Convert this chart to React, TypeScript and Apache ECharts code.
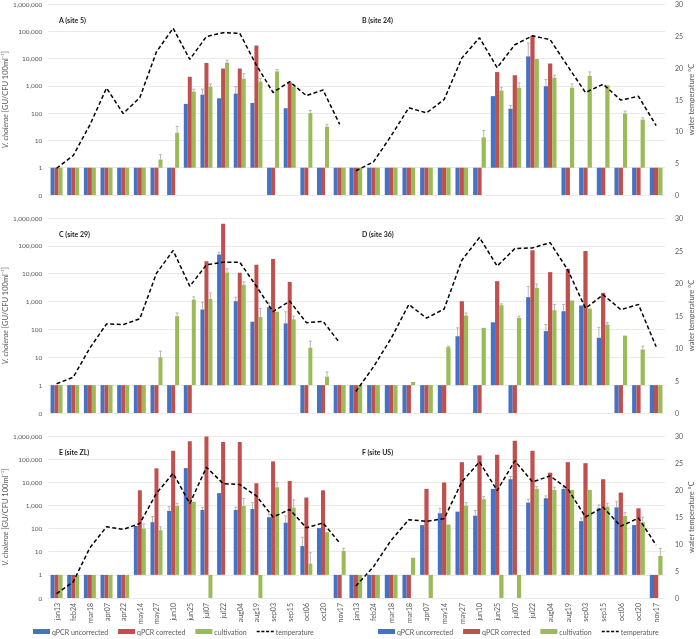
import React, { useEffect, useRef } from 'react';
import * as echarts from 'echarts';

const categories = ['jan13','feb24','mar18','apr07','apr22','may14','may27','jun10','jun25','jul07','jul22','aug04','aug19','sep03','sep15','oct06','oct20','nov17'];
const categoriesF = ['jan13','feb24','mar18','mar18','apr07','may14','may27','jun10','jun25','jul07','jul22','aug04','aug19','sep03','sep15','oct06','oct20','nov17'];

const panelTitles = ['A (site 5)', 'B (site 24)', 'C (site 29)', 'D (site 36)', 'E (site ZL)', 'F (site US)'];
const seriesNames = ['qPCR uncorrected', 'qPCR corrected', 'cultivation', 'temperature'];

// A (site 5)
const aUncorr = [0.1,0.1,0.1,0.1,0.1,0.1,0.1,0.1,218,478,350,520,237,0.1,152,0.1,0.1,0.1];
const aCorr = [0.1,0.1,0.1,0.1,0.1,0.1,0.1,0.1,2150,6900,4300,4300,30000,0.1,1340,0.1,0.1,0.1];
const aCult = [0.1,0.1,0.1,0.1,0.1,0.1,2,19,615,930,7100,1830,1450,3400,950,100,32,0.1];
const aTemp = [4.2,6.2,11,16.8,12.8,15.3,22.5,26.2,21.3,24.9,25.5,25.4,20.4,16.1,17.8,15.6,16.5,11.1];
// error bar tops: [category index, upper value]
const aUncorrErr = [[9,760],[11,930]];
const aCultErr = [[6,3],[7,33],[8,760],[9,1170],[10,8700],[11,2800],[12,1900],[13,4000],[15,125],[16,39]];

// B (site 24)
const bUncorr = [0.1,0.1,0.1,0.1,0.1,0.1,0.1,0.1,420,145,12000,970,0.1,0.1,0.1,0.1,0.1,0.1];
const bCorr = [0.1,0.1,0.1,0.1,0.1,0.1,0.1,0.1,3200,2450,69000,6600,0.1,0.1,0.1,0.1,0.1,0.1];
const bCult = [0.1,0.1,0.1,0.1,0.1,0.1,0.1,13,675,850,9700,2000,850,2300,1050,97,58,0.1];
const bTemp = [3.8,5.2,9.3,13.7,12.9,15.0,21.5,24.7,20.0,23.6,25.0,24.4,20.2,16.1,17.4,14.9,15.5,10.9];
const bUncorrErr = [[9,190],[10,37000],[11,1700]];
const bCultErr = [[7,23],[8,890],[9,1290],[11,2450],[12,1180],[13,3250],[15,118],[16,68]];

// C (site 29)
const cUncorr = [0.1,0.1,0.1,0.1,0.1,0.1,0.1,0.1,0.1,520,49000,1030,190,630,165,0.1,0.1,0.1];
const cCorr = [0.1,0.1,0.1,0.1,0.1,0.1,0.1,0.1,0.1,28000,620000,10800,21000,34000,5100,0.1,0.1,0.1];
const cCult = [0.1,0.1,0.1,0.1,0.1,0.1,10,300,1180,1250,11000,4000,280,430,230,22,2,0.1];
const cTemp = [4.5,5.5,10.0,13.7,13.6,14.5,21.5,25.0,19.5,22.8,23.2,23.2,19.5,15.6,17.2,13.9,14.1,10.8];
const cUncorrErr = [[9,950],[10,59000],[11,1440],[13,900],[14,430]];
const cCultErr = [[6,16.6],[7,390],[8,1480],[9,2050],[10,15000],[11,5100],[12,560],[14,300],[15,38],[16,3]];

// D (site 36)
const dUncorr = [0.1,0.1,0.1,0.1,0.1,0.1,57,0.1,180,0.1,1440,87,450,720,50,0.1,0.1,0.1];
const dCorr = [0.1,0.1,0.1,0.1,0.1,0.1,1030,0.1,5400,0.1,69000,11400,15000,65000,2050,0.1,0.1,0.1];
const dCult = [0.1,0.1,0.1,1.3,0.1,23,315,114,740,260,3100,490,1090,560,150,60,19,0.1];
const dTemp = [3.3,7.1,11.5,16.7,14.6,16.0,23.5,27.0,22.6,25.3,25.4,26.2,22.0,16.1,18.2,15.9,16.7,10.2];
const dUncorrErr = [[6,114],[10,3500],[11,150],[12,790],[14,120]];
const dCultErr = [[5,25],[6,390],[8,830],[9,300],[10,4300],[11,790],[14,175],[16,25]];

// E (site ZL)
const eUncorr = [0.1,0.1,0.1,0.1,0.1,130,190,580,41000,640,3400,640,700,310,180,17.5,105,0.1];
const eCorr = [0.1,0.1,0.1,0.1,0.1,4500,40000,230000,590000,960000,550000,550000,9100,80000,11400,2200,4500,0.1];
const eCult = [0.1,0.1,0.1,0.1,0.1,100,86,950,1450,0.1,1,950,0.1,6100,800,3.1,70,11];
const eTemp = [0.8,3.0,9.3,13.2,12.7,13.8,19.4,23.1,17.5,24.2,21.2,21.0,18.9,15.0,16.4,13.0,13.9,10.2];
const eUncorrErr = [[6,330],[7,890],[9,830],[11,830],[12,1320],[13,430],[14,350],[15,42]];
const eCultErr = [[5,158],[6,120],[7,1240],[11,2000],[13,9800],[14,1740],[15,9],[17,14]];

// F (site US)
const fUncorr = [0.1,0.1,0.1,0.1,142,460,540,360,5200,13600,1320,2050,5200,210,750,830,142,0.1];
const fCorr = [0.1,0.1,0.1,0.1,5200,9800,74000,145000,155000,620000,230000,26000,74000,67000,13600,3600,750,0.1];
const fCult = [0.1,0.1,0.1,5.5,0.1,150,980,1850,0.1,0.1,5200,4700,4700,4700,890,350,186,6.5];
const fTemp = [2.2,5.8,10.7,14.5,14.2,14.7,21.5,25.2,19.9,25.4,21.5,22.6,20.2,15.0,16.8,13.3,14.8,9.8];
const fUncorrErr = [[5,750],[7,600],[9,18000],[10,1850],[11,2600],[12,6200],[13,280],[14,1050],[15,1450]];
const fCultErr = [[6,1320],[7,2400],[10,6600],[11,6200],[14,1240],[15,490],[16,310],[17,14]];

const panelData = [
  [aUncorr, aCorr, aCult, aTemp],
  [bUncorr, bCorr, bCult, bTemp],
  [cUncorr, cCorr, cCult, cTemp],
  [dUncorr, dCorr, dCult, dTemp],
  [eUncorr, eCorr, eCult, eTemp],
  [fUncorr, fCorr, fCult, fTemp],
];
const panelErr = [
  [aUncorrErr, aCultErr],
  [bUncorrErr, bCultErr],
  [cUncorrErr, cCultErr],
  [dUncorrErr, dCultErr],
  [eUncorrErr, eCultErr],
  [fUncorrErr, fCultErr],
];

const colors = ['#4472C4', '#C0504D', '#9BBB59', '#000000'];
const FONT = 'Lato, "Liberation Sans", sans-serif';
const TXT = '#595959';
const ERR = '#a6a6a6';
const DASH_ICON = 'path://M0,0L0.01,0M0,5L0.01,5M0,1.8H3V3.2H0Z M4.7,1.8H7.7V3.2H4.7Z M9.4,1.8H12.4V3.2H9.4Z M14.1,1.8H17V3.2H14.1Z';

export default function App() {
  const ref = useRef<HTMLDivElement>(null);
  useEffect(() => {
    document.body.style.margin = '0';
    const chart = echarts.init(ref.current!, null, { renderer: 'svg' });
    const rows = [{ top: 4, height: 191 }, { top: 218, height: 195 }, { top: 436, height: 162 }];
    const cols = [{ left: 48, width: 300 }, { left: 347, width: 320 }];
    const grids: any[] = [];
    const xAxes: any[] = [];
    const yAxes: any[] = [];
    const series: any[] = [];
    const titles: any[] = [];
    for (let p = 0; p < 6; p++) {
      const r = rows[Math.floor(p / 2)];
      const c = cols[p % 2];
      const isLeft = p % 2 === 0;
      const isBottom = p >= 4;
      grids.push({ left: c.left, width: c.width, top: r.top, height: r.height, containLabel: false });
      xAxes.push({
        type: 'category', gridIndex: p, data: p === 5 ? categoriesF : categories,
        axisLine: { show: false }, axisTick: { show: false },
        axisLabel: { show: isBottom, rotate: 90, fontSize: 7, color: TXT, fontFamily: FONT, margin: 5, interval: 0 },
      });
      yAxes.push({
        type: 'log', logBase: 10, gridIndex: p, min: 0.1, max: 1000000, position: 'left',
        axisLine: { show: false }, axisTick: { show: false },
        splitLine: { show: true, lineStyle: { color: '#e4e4e4', width: 0.8 } },
        axisLabel: {
          show: isLeft, fontSize: 6.5, color: TXT, fontFamily: FONT, margin: 6,
          formatter: (v: number) => (v < 0.5 ? '0' : Math.round(v).toLocaleString('en-US')),
        },
        name: isLeft ? '{i|V. cholerae} [GU/CFU 100ml⁻¹]' : '',
        nameLocation: 'middle', nameRotate: 90, nameGap: 37,
        nameTextStyle: { fontSize: 7.5, color: TXT, fontFamily: FONT, rich: { i: { fontStyle: 'italic', fontSize: 7.5, color: TXT, fontFamily: FONT } } },
      });
      yAxes.push({
        type: 'value', gridIndex: p, min: 0, max: 30, interval: 5, position: 'right', show: !isLeft,
        axisLine: { show: false }, axisTick: { show: false }, splitLine: { show: false },
        axisLabel: { show: !isLeft, fontSize: 7, color: TXT, fontFamily: FONT, margin: 10 },
        name: isLeft ? '' : 'water temperature °C', nameLocation: 'middle', nameRotate: 90, nameGap: 22,
        nameTextStyle: { fontSize: 7.5, color: TXT, fontFamily: FONT },
      });
      const d = panelData[p];
      for (let s = 0; s < 3; s++) {
        series.push({
          type: 'bar', name: seriesNames[s], xAxisIndex: p, yAxisIndex: 2 * p, data: d[s],
          itemStyle: { color: colors[s] }, barGap: '0%', barCategoryGap: '28%',
        });
      }
      // error bars (uncorrected -> slot 0, cultivation -> slot 2)
      const errSets = [[panelErr[p][0], d[0], 0], [panelErr[p][1], d[2], 2]] as any[];
      for (const [errs, vals, slot] of errSets) {
        series.push({
          type: 'custom', xAxisIndex: p, yAxisIndex: 2 * p, z: 4, silent: true,
          data: errs.map(([i, t]: number[]) => [i, t, vals[i]]),
          encode: { x: 0, y: 1 },
          renderItem: (params: any, api: any) => {
            const i = api.value(0);
            const t = api.coord([i, api.value(1)]);
            const b = api.coord([i, api.value(2)]);
            const w = api.coord([1, 1])[0] - api.coord([0, 1])[0];
            const x = t[0] + (slot - 1) * 0.24 * w;
            const st = { stroke: ERR, lineWidth: 0.8 };
            return {
              type: 'group',
              children: [
                { type: 'line', shape: { x1: x, y1: b[1], x2: x, y2: t[1] }, style: st },
                { type: 'line', shape: { x1: x - 1.5, y1: t[1], x2: x + 1.5, y2: t[1] }, style: st },
              ],
            };
          },
        });
      }
      series.push({
        type: 'line', name: seriesNames[3], xAxisIndex: p, yAxisIndex: 2 * p + 1, data: d[3],
        symbol: 'none', lineStyle: { color: '#000', width: 1.5, type: [4, 2.5] }, itemStyle: { color: '#000' },
        z: 5,
      });
      titles.push({
        text: panelTitles[p], left: c.left + (isLeft ? 6 : 10), top: r.top + 7,
        textStyle: { fontSize: 7, fontWeight: 'bold', color: '#262626', fontFamily: FONT },
      });
    }
    const legendItems = [
      { name: 'qPCR uncorrected', icon: 'rect' },
      { name: 'qPCR corrected', icon: 'rect' },
      { name: 'cultivation', icon: 'rect' },
      { name: 'temperature', icon: DASH_ICON, itemStyle: { color: '#000' } },
    ];
    const legendBase = {
      orient: 'horizontal', itemWidth: 17, itemHeight: 5, itemGap: 10, top: 628, width: 320,
      padding: 0,
      textStyle: { fontSize: 7, color: TXT, fontFamily: FONT, padding: [0, 0, 0, -3] },
    };
    chart.setOption({
      animation: false,
      textStyle: { fontFamily: FONT },
      title: titles,
      grid: grids,
      xAxis: xAxes,
      yAxis: yAxes,
      series,
      legend: [
        { ...legendBase, left: 33, data: legendItems },
        { ...legendBase, left: 378, data: legendItems },
      ],
    });
    return () => chart.dispose();
  }, []);
  return <div ref={ref} style={{ position: 'fixed', left: 0, top: 0, width: 696, height: 639 }} />;
}
